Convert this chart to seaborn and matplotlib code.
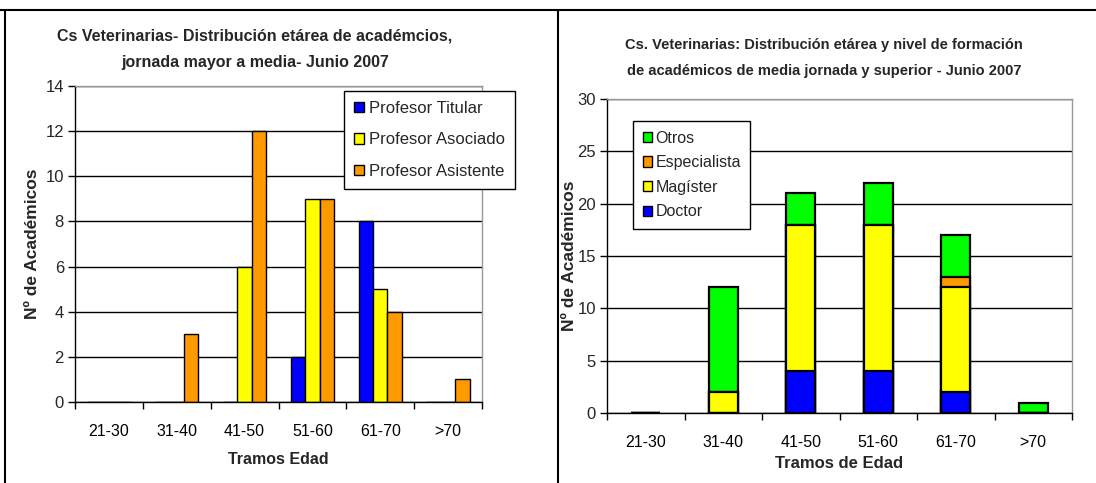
import numpy as np
import pandas as pd
import matplotlib
matplotlib.use("Agg")
import matplotlib.pyplot as plt
import matplotlib.patches as mpatches
import seaborn as sns

# data
tramos = ["21-30", "31-40", "41-50", "51-60", "61-70", ">70"]

titular = [0, 0, 0, 2, 8, 0]
asociado = [0, 0, 6, 9, 5, 0]
asistente = [0, 3, 12, 9, 4, 1]

doctor = [0, 0, 4, 4, 2, 0]
magister = [0, 2, 14, 14, 10, 0]
especialista = [0, 0, 0, 0, 1, 0]
otros = [0, 10, 3, 4, 4, 1]

sns.set_theme(style="white")
plt.rcParams["font.family"] = ["Liberation Sans", "DejaVu Sans"]

BLUE, YELLOW, ORANGE, GREEN = "#0000ff", "#ffff00", "#ff9900", "#00ff00"

fig = plt.figure(figsize=(10.96, 4.83), dpi=100)
W, H = 1096, 483


def px(x0, y0, x1, y1):
    return [x0 / W, 1 - y1 / H, (x1 - x0) / W, (y1 - y0) / H]


def style_axes(ax, ymax, ystep):
    ax.set_ylim(0, ymax)
    ax.set_xlim(-0.5, 5.5)
    ax.set_yticks(np.arange(0, ymax + 1, ystep))
    ax.yaxis.grid(True, color="black", linewidth=1)
    ax.set_axisbelow(True)
    ax.set_xticks(np.arange(-0.5, 6, 1), minor=True)
    ax.tick_params(axis="x", which="major", length=0, labelsize=11.5, pad=16, colors="black")
    ax.tick_params(axis="x", which="minor", bottom=True, length=5, width=1, color="black")
    ax.tick_params(axis="y", left=True, length=5, width=1, labelsize=12, color="black", pad=3)
    for s in ["left", "bottom"]:
        ax.spines[s].set_color("black")
        ax.spines[s].set_linewidth(1)
    for s in ["top", "right"]:
        ax.spines[s].set_color("#999999")
        ax.spines[s].set_linewidth(1)


# left chart: grouped bars
ax1 = fig.add_axes(px(75, 86, 482, 402))
df_left = pd.DataFrame({
    "tramo": tramos * 3,
    "n": titular + asociado + asistente,
    "cargo": ["Profesor Titular"] * 6 + ["Profesor Asociado"] * 6 + ["Profesor Asistente"] * 6,
})
cargos = ["Profesor Titular", "Profesor Asociado", "Profesor Asistente"]
sns.barplot(data=df_left, x="tramo", y="n", hue="cargo", order=tramos, hue_order=cargos,
            palette=[BLUE, YELLOW, ORANGE], saturation=1, width=0.64, edgecolor="black",
            linewidth=1, legend=False, ax=ax1)
style_axes(ax1, 14, 2)
ax1.set_xlabel("Tramos Edad", fontsize=11.5, fontweight="bold", labelpad=9)
ax1.set_ylabel("Nº de Académicos", fontsize=12.5, fontweight="bold", labelpad=4)
handles = [mpatches.Patch(facecolor=c, edgecolor="black", label=l)
           for c, l in zip([BLUE, YELLOW, ORANGE], cargos)]
ax1.legend(handles=handles, loc="upper right", bbox_to_anchor=(1.08, 0.985), fontsize=12,
           frameon=True, fancybox=False, edgecolor="black", framealpha=1,
           handlelength=0.6, handleheight=0.6, handletextpad=0.3, labelspacing=1.0,
           borderpad=0.6, borderaxespad=0)
fig.text(255 / W, 1 - 49 / H, "Cs Veterinarias- Distribución etárea de académcios,\njornada mayor a media- Junio 2007",
         ha="center", va="center", fontsize=11.5, fontweight="bold", linespacing=1.95)

# right chart: stacked bars (drawn as cumulative layers)
ax2 = fig.add_axes(px(607, 99, 1072, 413))
levels = [("Otros", otros, GREEN), ("Especialista", especialista, ORANGE),
          ("Magíster", magister, YELLOW), ("Doctor", doctor, BLUE)]
stack = np.array([doctor, magister, especialista, otros])
cum = np.cumsum(stack, axis=0)
for (name, vals, col), top in zip(levels, cum[::-1]):
    sns.barplot(x=tramos, y=top, order=tramos, color=col, width=0.38, saturation=1,
                edgecolor="black", linewidth=1.6, ax=ax2)
style_axes(ax2, 30, 5)
ax2.tick_params(axis="x", which="major", pad=16)
ax2.set_xlabel("Tramos de Edad", fontsize=12, fontweight="bold", labelpad=4)
ax2.set_ylabel("Nº de Académicos", fontsize=12.5, fontweight="bold", labelpad=0)
handles = [mpatches.Patch(facecolor=c, edgecolor="black", label=n) for n, _, c in levels]
ax2.legend(handles=handles, loc="upper left", bbox_to_anchor=(0.056, 0.93), fontsize=11.5,
           frameon=True, fancybox=False, edgecolor="black", framealpha=1,
           handlelength=0.6, handleheight=0.6, handletextpad=0.2, labelspacing=0.6,
           borderpad=0.6, borderaxespad=0)
fig.text(824 / W, 1 - 58 / H, "Cs. Veterinarias: Distribución etárea y nivel de formación\nde académicos de media jornada y superior - Junio 2007",
         ha="center", va="center", fontsize=10.5, fontweight="bold", linespacing=2.1)

# panel frames
fig.add_artist(plt.Line2D([0, 1], [1 - 10 / H, 1 - 10 / H], color="black", linewidth=1.5))
fig.add_artist(plt.Line2D([5 / W, 5 / W], [0, 1 - 10 / H], color="black", linewidth=1.5))
fig.add_artist(plt.Line2D([558 / W, 558 / W], [0, 1 - 10 / H], color="black", linewidth=1.5))

fig.savefig("out.png", dpi=100)
